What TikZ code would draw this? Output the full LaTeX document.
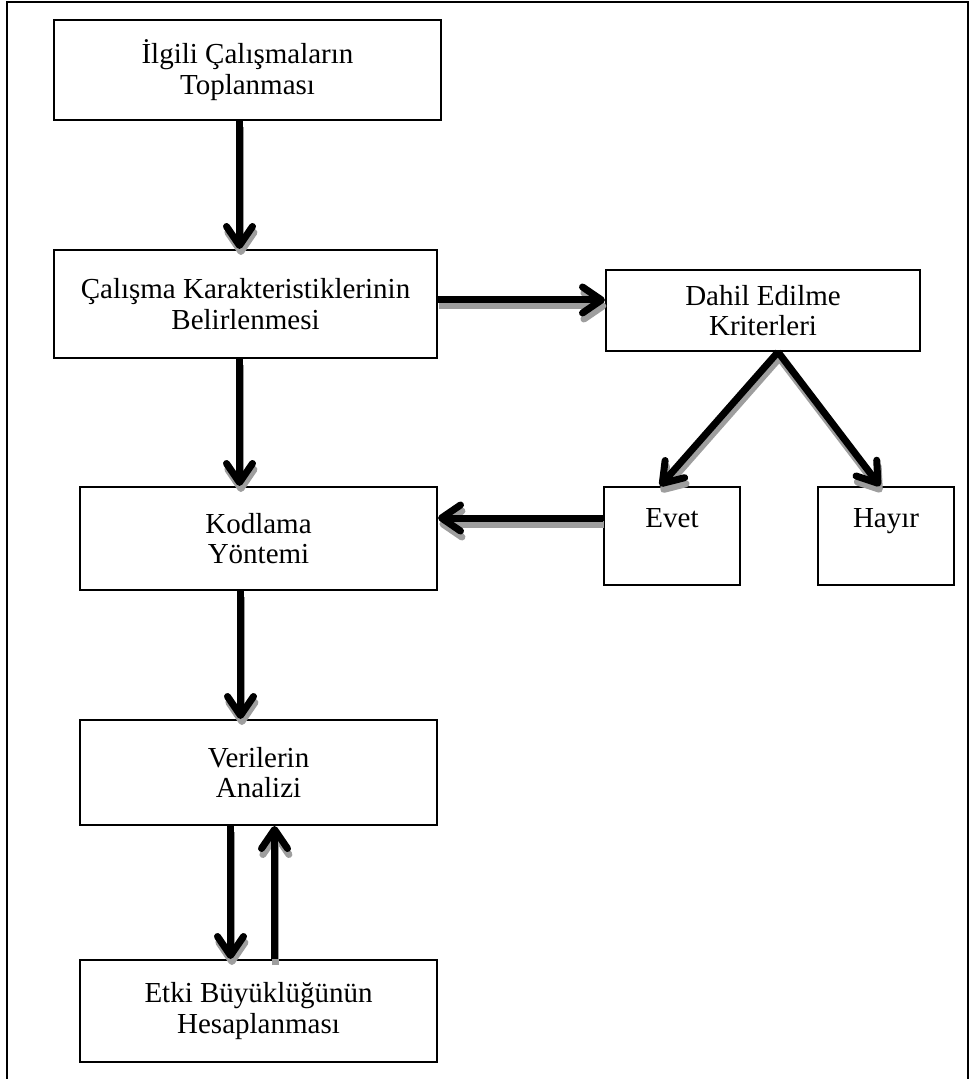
\documentclass[tikz,border=0pt]{standalone}
\usepackage{fontspec}
\setmainfont{Liberation Serif}
\usetikzlibrary{arrows.meta}

\begin{document}
\begin{tikzpicture}[x=0.5pt, y=-0.5pt,
    box/.style={draw, line width=1pt, align=center, inner sep=2pt,
        font=\fontsize{14.5}{15.2}\selectfont},
    small/.style={box, minimum width=68pt, minimum height=49pt, text height=9pt, text depth=18pt},
    flow/.style={line width=3.5pt, -{Straight Barb[length=9.5pt, width=13pt, round]}}]
    \useasboundingbox (0, 0) rectangle (970, 1079);
    \draw[line width=0.8pt] (7, 1079) -- (7, 2) -- (968, 2) -- (968, 1079);

    \node[box, minimum width=193.5pt, minimum height=50pt] (lit) at (247.5, 70) {İlgili Çalışmaların\\Toplanması};
    \node[box, minimum width=191.5pt, minimum height=54pt] (kar) at (245.5, 304) {Çalışma Karakteristiklerinin\\Belirlenmesi};
    \node[box, minimum width=157pt, minimum height=40.5pt] (dahil) at (763, 310.5) {Dahil Edilme\\Kriterleri};
    \node[box, minimum width=178.5pt, minimum height=51.5pt] (kod) at (258.5, 538.5) {Kodlama\\Yöntemi};
    \node[small] (evet) at (672, 536) {Evet};
    \node[small] (hayir) at (886, 536) {Hayır};
    \node[box, minimum width=178.5pt, minimum height=52.5pt] (veri) at (258.5, 772.5) {Verilerin\\Analizi};
    \node[box, minimum width=178.5pt, minimum height=51pt] (etki) at (258.5, 1011) {Etki Büyüklüğünün\\Hesaplanması};

    % gray shadow first, then the black arrows
    \foreach \col/\dx/\dy in {black!38/0.7pt/-3pt, black/0pt/0pt}
    {
        \begin{scope}[transform canvas={shift={(\dx,\dy)}}, draw=\col]
            \draw[flow] ([xshift=-4pt]lit.south) -- ([xshift=-4pt]lit.south |- kar.north);
            \draw[flow] ([xshift=-3pt]kar.south) -- ([xshift=-3pt]kar.south |- kod.north);
            \draw[flow] ([xshift=-9pt]kod.south) -- ([xshift=-9pt]kod.south |- veri.north);
            \draw[flow] ([xshift=-14pt]veri.south) -- ([xshift=-14pt]veri.south |- etki.north);
            \draw[flow] ([xshift=8pt]etki.north) -- ([xshift=8pt]etki.north |- veri.south);

            \draw[flow] ([yshift=2pt]kar.east) -- ([yshift=2pt]kar.east -| dahil.west);
            \draw[flow] ([xshift=7.5pt]dahil.south) -- ([xshift=-6pt]evet.north);
            \draw[flow] ([xshift=7.5pt]dahil.south) -- ([xshift=-3pt]hayir.north);
            \draw[flow] ([yshift=9pt]evet.west) -- ([yshift=9pt]evet.west -| kod.east);
        \end{scope}
    }
\end{tikzpicture}
\end{document}
